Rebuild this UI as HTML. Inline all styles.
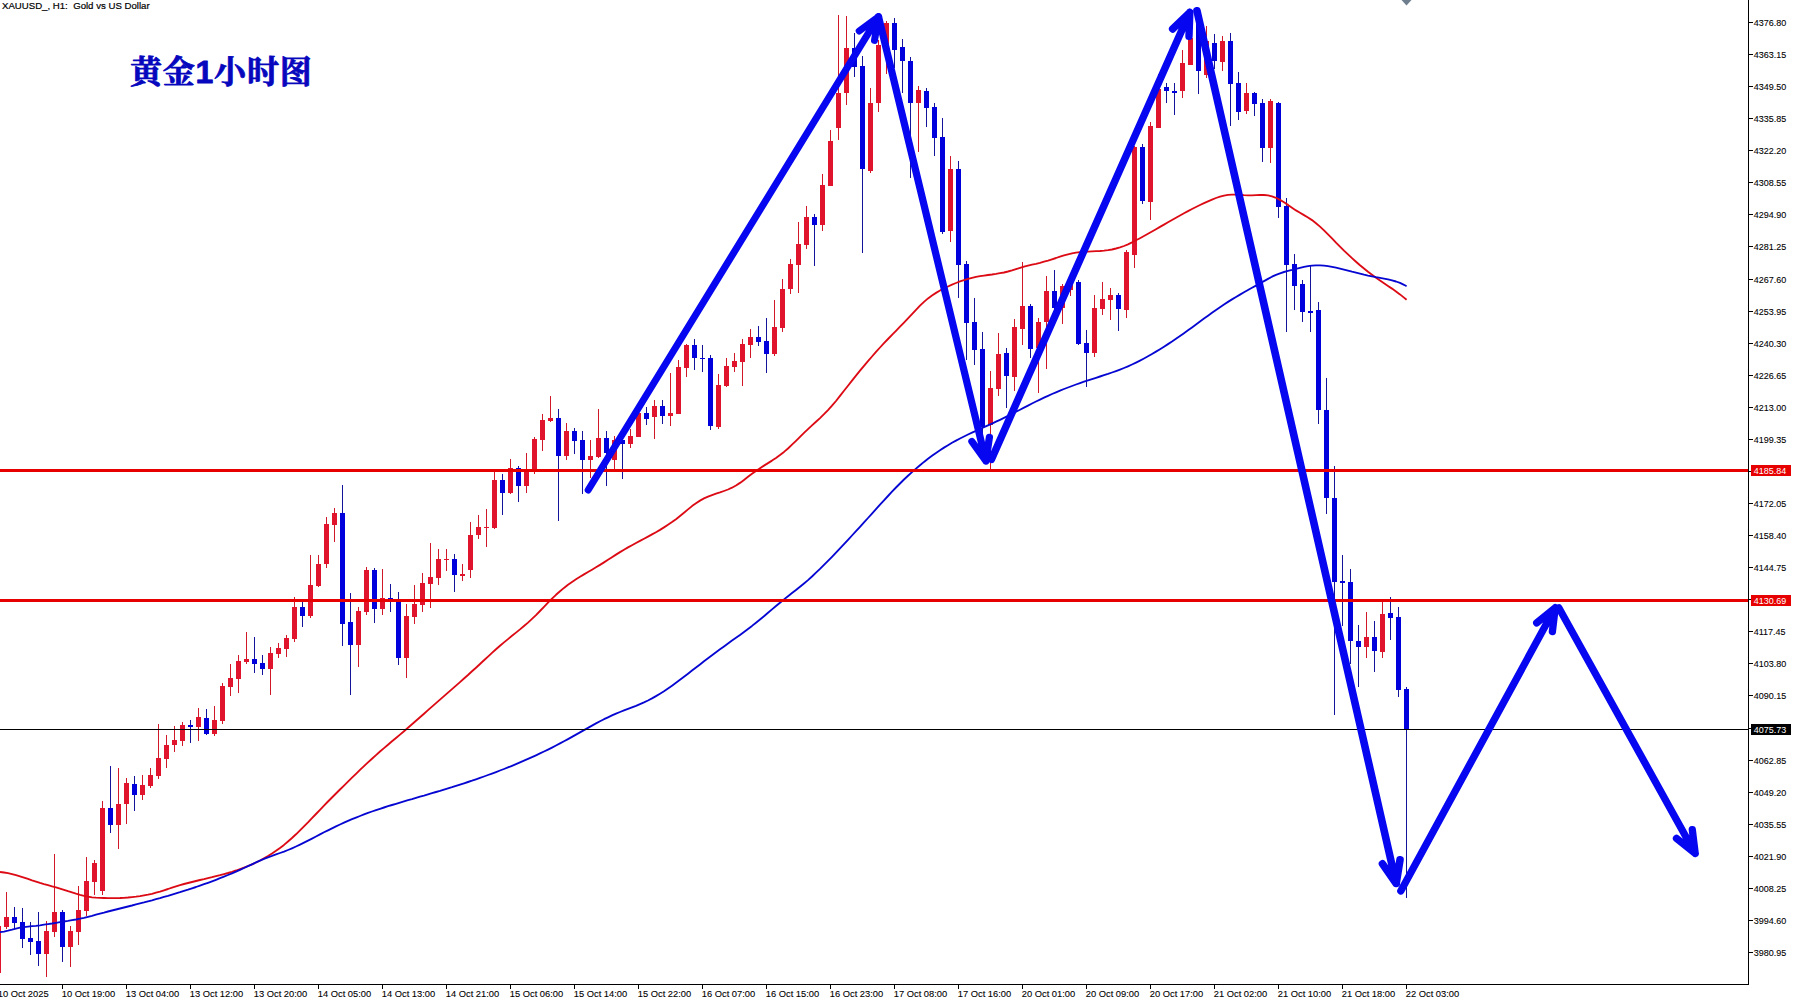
<!DOCTYPE html>
<html><head><meta charset="utf-8"><title>XAUUSD H1</title>
<style>html,body{margin:0;padding:0;background:#fff;overflow:hidden}svg{display:block}text{font-family:"Liberation Sans","Noto Sans CJK SC",sans-serif}text.ttl{font-family:"Liberation Sans","Noto Serif CJK SC",serif}</style></head>
<body>
<svg width="1799" height="1004" viewBox="0 0 1799 1004">
<rect width="1799" height="1004" fill="#fff"/>
<g shape-rendering="crispEdges">
<rect x="-4" y="926" width="5" height="47" fill="#E0142D"/>
<rect x="6" y="892" width="1" height="37" fill="#D01828"/>
<rect x="4" y="917" width="5" height="10" fill="#E0142D"/>
<rect x="14" y="907" width="1" height="22" fill="#14149A"/>
<rect x="12" y="917" width="5" height="6" fill="#0000DC"/>
<rect x="22" y="908" width="1" height="40" fill="#14149A"/>
<rect x="20" y="922" width="5" height="17" fill="#0000DC"/>
<rect x="30" y="922" width="1" height="33" fill="#14149A"/>
<rect x="28" y="938" width="5" height="4" fill="#0000DC"/>
<rect x="38" y="912" width="1" height="54" fill="#14149A"/>
<rect x="36" y="941" width="5" height="13" fill="#0000DC"/>
<rect x="46" y="921" width="1" height="56" fill="#D01828"/>
<rect x="44" y="931" width="5" height="23" fill="#E0142D"/>
<rect x="54" y="854" width="1" height="83" fill="#D01828"/>
<rect x="52" y="912" width="5" height="20" fill="#E0142D"/>
<rect x="62" y="910" width="1" height="52" fill="#14149A"/>
<rect x="60" y="912" width="5" height="35" fill="#0000DC"/>
<rect x="70" y="926" width="1" height="41" fill="#D01828"/>
<rect x="68" y="931" width="5" height="16" fill="#E0142D"/>
<rect x="78" y="886" width="1" height="59" fill="#D01828"/>
<rect x="76" y="910" width="5" height="22" fill="#E0142D"/>
<rect x="86" y="857" width="1" height="59" fill="#D01828"/>
<rect x="84" y="881" width="5" height="30" fill="#E0142D"/>
<rect x="94" y="860" width="1" height="35" fill="#D01828"/>
<rect x="92" y="863" width="5" height="19" fill="#E0142D"/>
<rect x="102" y="801" width="1" height="94" fill="#D01828"/>
<rect x="100" y="808" width="5" height="83" fill="#E0142D"/>
<rect x="110" y="766" width="1" height="67" fill="#14149A"/>
<rect x="108" y="808" width="5" height="17" fill="#0000DC"/>
<rect x="118" y="768" width="1" height="81" fill="#D01828"/>
<rect x="116" y="804" width="5" height="21" fill="#E0142D"/>
<rect x="126" y="778" width="1" height="46" fill="#D01828"/>
<rect x="124" y="783" width="5" height="21" fill="#E0142D"/>
<rect x="134" y="776" width="1" height="35" fill="#14149A"/>
<rect x="132" y="784" width="5" height="11" fill="#0000DC"/>
<rect x="142" y="775" width="1" height="25" fill="#D01828"/>
<rect x="140" y="785" width="5" height="10" fill="#E0142D"/>
<rect x="150" y="768" width="1" height="20" fill="#D01828"/>
<rect x="148" y="775" width="5" height="11" fill="#E0142D"/>
<rect x="158" y="724" width="1" height="55" fill="#D01828"/>
<rect x="156" y="758" width="5" height="18" fill="#E0142D"/>
<rect x="166" y="735" width="1" height="33" fill="#D01828"/>
<rect x="164" y="745" width="5" height="14" fill="#E0142D"/>
<rect x="174" y="726" width="1" height="26" fill="#D01828"/>
<rect x="172" y="740" width="5" height="5" fill="#E0142D"/>
<rect x="182" y="722" width="1" height="24" fill="#D01828"/>
<rect x="180" y="725" width="5" height="16" fill="#E0142D"/>
<rect x="190" y="720" width="1" height="23" fill="#14149A"/>
<rect x="188" y="725" width="5" height="2" fill="#0000DC"/>
<rect x="198" y="708" width="1" height="33" fill="#D01828"/>
<rect x="196" y="717" width="5" height="10" fill="#E0142D"/>
<rect x="206" y="709" width="1" height="26" fill="#14149A"/>
<rect x="204" y="718" width="5" height="16" fill="#0000DC"/>
<rect x="214" y="706" width="1" height="30" fill="#D01828"/>
<rect x="212" y="720" width="5" height="14" fill="#E0142D"/>
<rect x="222" y="683" width="1" height="41" fill="#D01828"/>
<rect x="220" y="686" width="5" height="35" fill="#E0142D"/>
<rect x="230" y="664" width="1" height="32" fill="#D01828"/>
<rect x="228" y="678" width="5" height="9" fill="#E0142D"/>
<rect x="238" y="655" width="1" height="38" fill="#D01828"/>
<rect x="236" y="661" width="5" height="18" fill="#E0142D"/>
<rect x="246" y="632" width="1" height="32" fill="#D01828"/>
<rect x="244" y="659" width="5" height="3" fill="#E0142D"/>
<rect x="254" y="637" width="1" height="36" fill="#14149A"/>
<rect x="252" y="659" width="5" height="5" fill="#0000DC"/>
<rect x="262" y="655" width="1" height="20" fill="#14149A"/>
<rect x="260" y="663" width="5" height="6" fill="#0000DC"/>
<rect x="270" y="647" width="1" height="48" fill="#D01828"/>
<rect x="268" y="653" width="5" height="16" fill="#E0142D"/>
<rect x="278" y="643" width="1" height="15" fill="#D01828"/>
<rect x="276" y="648" width="5" height="6" fill="#E0142D"/>
<rect x="286" y="635" width="1" height="22" fill="#D01828"/>
<rect x="284" y="638" width="5" height="11" fill="#E0142D"/>
<rect x="294" y="597" width="1" height="45" fill="#D01828"/>
<rect x="292" y="607" width="5" height="32" fill="#E0142D"/>
<rect x="302" y="602" width="1" height="25" fill="#14149A"/>
<rect x="300" y="607" width="5" height="9" fill="#0000DC"/>
<rect x="310" y="555" width="1" height="63" fill="#D01828"/>
<rect x="308" y="585" width="5" height="31" fill="#E0142D"/>
<rect x="318" y="555" width="1" height="32" fill="#D01828"/>
<rect x="316" y="564" width="5" height="22" fill="#E0142D"/>
<rect x="326" y="517" width="1" height="51" fill="#D01828"/>
<rect x="324" y="524" width="5" height="40" fill="#E0142D"/>
<rect x="334" y="508" width="1" height="34" fill="#D01828"/>
<rect x="332" y="513" width="5" height="12" fill="#E0142D"/>
<rect x="342" y="485" width="1" height="161" fill="#14149A"/>
<rect x="340" y="513" width="5" height="111" fill="#0000DC"/>
<rect x="350" y="593" width="1" height="102" fill="#14149A"/>
<rect x="348" y="622" width="5" height="23" fill="#0000DC"/>
<rect x="358" y="607" width="1" height="60" fill="#D01828"/>
<rect x="356" y="611" width="5" height="34" fill="#E0142D"/>
<rect x="366" y="567" width="1" height="48" fill="#D01828"/>
<rect x="364" y="570" width="5" height="42" fill="#E0142D"/>
<rect x="374" y="568" width="1" height="55" fill="#14149A"/>
<rect x="372" y="570" width="5" height="39" fill="#0000DC"/>
<rect x="382" y="569" width="1" height="46" fill="#D01828"/>
<rect x="380" y="598" width="5" height="11" fill="#E0142D"/>
<rect x="390" y="584" width="1" height="28" fill="#14149A"/>
<rect x="388" y="598" width="5" height="2" fill="#0000DC"/>
<rect x="398" y="592" width="1" height="73" fill="#14149A"/>
<rect x="396" y="601" width="5" height="57" fill="#0000DC"/>
<rect x="406" y="604" width="1" height="74" fill="#D01828"/>
<rect x="404" y="616" width="5" height="42" fill="#E0142D"/>
<rect x="414" y="585" width="1" height="39" fill="#D01828"/>
<rect x="412" y="604" width="5" height="13" fill="#E0142D"/>
<rect x="422" y="573" width="1" height="39" fill="#D01828"/>
<rect x="420" y="583" width="5" height="22" fill="#E0142D"/>
<rect x="430" y="543" width="1" height="65" fill="#D01828"/>
<rect x="428" y="577" width="5" height="7" fill="#E0142D"/>
<rect x="438" y="549" width="1" height="36" fill="#D01828"/>
<rect x="436" y="559" width="5" height="19" fill="#E0142D"/>
<rect x="446" y="549" width="1" height="22" fill="#D01828"/>
<rect x="444" y="559" width="5" height="1" fill="#E0142D"/>
<rect x="454" y="554" width="1" height="38" fill="#14149A"/>
<rect x="452" y="559" width="5" height="16" fill="#0000DC"/>
<rect x="462" y="564" width="1" height="17" fill="#D01828"/>
<rect x="460" y="574" width="5" height="2" fill="#E0142D"/>
<rect x="470" y="522" width="1" height="56" fill="#D01828"/>
<rect x="468" y="535" width="5" height="35" fill="#E0142D"/>
<rect x="478" y="515" width="1" height="24" fill="#D01828"/>
<rect x="476" y="527" width="5" height="8" fill="#E0142D"/>
<rect x="486" y="509" width="1" height="38" fill="#D01828"/>
<rect x="484" y="527" width="5" height="1" fill="#E0142D"/>
<rect x="494" y="471" width="1" height="58" fill="#D01828"/>
<rect x="492" y="480" width="5" height="48" fill="#E0142D"/>
<rect x="502" y="474" width="1" height="41" fill="#14149A"/>
<rect x="500" y="480" width="5" height="13" fill="#0000DC"/>
<rect x="510" y="459" width="1" height="35" fill="#D01828"/>
<rect x="508" y="468" width="5" height="25" fill="#E0142D"/>
<rect x="518" y="466" width="1" height="36" fill="#14149A"/>
<rect x="516" y="468" width="5" height="18" fill="#0000DC"/>
<rect x="526" y="453" width="1" height="40" fill="#D01828"/>
<rect x="524" y="470" width="5" height="16" fill="#E0142D"/>
<rect x="534" y="437" width="1" height="37" fill="#D01828"/>
<rect x="532" y="439" width="5" height="31" fill="#E0142D"/>
<rect x="542" y="414" width="1" height="37" fill="#D01828"/>
<rect x="540" y="420" width="5" height="20" fill="#E0142D"/>
<rect x="550" y="396" width="1" height="26" fill="#D01828"/>
<rect x="548" y="418" width="5" height="3" fill="#E0142D"/>
<rect x="558" y="409" width="1" height="112" fill="#14149A"/>
<rect x="556" y="418" width="5" height="38" fill="#0000DC"/>
<rect x="566" y="423" width="1" height="37" fill="#D01828"/>
<rect x="564" y="431" width="5" height="25" fill="#E0142D"/>
<rect x="574" y="428" width="1" height="26" fill="#14149A"/>
<rect x="572" y="431" width="5" height="10" fill="#0000DC"/>
<rect x="582" y="431" width="1" height="63" fill="#14149A"/>
<rect x="580" y="440" width="5" height="20" fill="#0000DC"/>
<rect x="590" y="440" width="1" height="38" fill="#D01828"/>
<rect x="588" y="456" width="5" height="4" fill="#E0142D"/>
<rect x="598" y="409" width="1" height="49" fill="#D01828"/>
<rect x="596" y="438" width="5" height="19" fill="#E0142D"/>
<rect x="606" y="431" width="1" height="55" fill="#14149A"/>
<rect x="604" y="438" width="5" height="15" fill="#0000DC"/>
<rect x="614" y="436" width="1" height="34" fill="#D01828"/>
<rect x="612" y="440" width="5" height="20" fill="#E0142D"/>
<rect x="622" y="437" width="1" height="42" fill="#14149A"/>
<rect x="620" y="440" width="5" height="4" fill="#0000DC"/>
<rect x="630" y="429" width="1" height="19" fill="#D01828"/>
<rect x="628" y="436" width="5" height="8" fill="#E0142D"/>
<rect x="638" y="411" width="1" height="26" fill="#D01828"/>
<rect x="636" y="413" width="5" height="24" fill="#E0142D"/>
<rect x="646" y="407" width="1" height="18" fill="#14149A"/>
<rect x="644" y="413" width="5" height="6" fill="#0000DC"/>
<rect x="654" y="400" width="1" height="39" fill="#D01828"/>
<rect x="652" y="406" width="5" height="11" fill="#E0142D"/>
<rect x="662" y="400" width="1" height="24" fill="#14149A"/>
<rect x="660" y="406" width="5" height="10" fill="#0000DC"/>
<rect x="670" y="373" width="1" height="53" fill="#D01828"/>
<rect x="668" y="413" width="5" height="3" fill="#E0142D"/>
<rect x="678" y="360" width="1" height="54" fill="#D01828"/>
<rect x="676" y="367" width="5" height="47" fill="#E0142D"/>
<rect x="686" y="344" width="1" height="33" fill="#D01828"/>
<rect x="684" y="345" width="5" height="23" fill="#E0142D"/>
<rect x="694" y="339" width="1" height="31" fill="#14149A"/>
<rect x="692" y="345" width="5" height="13" fill="#0000DC"/>
<rect x="702" y="345" width="1" height="27" fill="#14149A"/>
<rect x="700" y="358" width="5" height="1" fill="#0000DC"/>
<rect x="710" y="355" width="1" height="75" fill="#14149A"/>
<rect x="708" y="358" width="5" height="68" fill="#0000DC"/>
<rect x="718" y="374" width="1" height="55" fill="#D01828"/>
<rect x="716" y="385" width="5" height="42" fill="#E0142D"/>
<rect x="726" y="358" width="1" height="29" fill="#D01828"/>
<rect x="724" y="366" width="5" height="20" fill="#E0142D"/>
<rect x="734" y="353" width="1" height="19" fill="#D01828"/>
<rect x="732" y="361" width="5" height="6" fill="#E0142D"/>
<rect x="742" y="339" width="1" height="47" fill="#D01828"/>
<rect x="740" y="344" width="5" height="18" fill="#E0142D"/>
<rect x="750" y="329" width="1" height="29" fill="#D01828"/>
<rect x="748" y="337" width="5" height="8" fill="#E0142D"/>
<rect x="758" y="326" width="1" height="20" fill="#14149A"/>
<rect x="756" y="337" width="5" height="5" fill="#0000DC"/>
<rect x="766" y="318" width="1" height="55" fill="#14149A"/>
<rect x="764" y="341" width="5" height="13" fill="#0000DC"/>
<rect x="774" y="300" width="1" height="56" fill="#D01828"/>
<rect x="772" y="327" width="5" height="27" fill="#E0142D"/>
<rect x="782" y="279" width="1" height="53" fill="#D01828"/>
<rect x="780" y="289" width="5" height="39" fill="#E0142D"/>
<rect x="790" y="259" width="1" height="35" fill="#D01828"/>
<rect x="788" y="264" width="5" height="25" fill="#E0142D"/>
<rect x="798" y="222" width="1" height="71" fill="#D01828"/>
<rect x="796" y="244" width="5" height="21" fill="#E0142D"/>
<rect x="806" y="206" width="1" height="43" fill="#D01828"/>
<rect x="804" y="217" width="5" height="28" fill="#E0142D"/>
<rect x="814" y="214" width="1" height="52" fill="#14149A"/>
<rect x="812" y="217" width="5" height="8" fill="#0000DC"/>
<rect x="822" y="174" width="1" height="57" fill="#D01828"/>
<rect x="820" y="185" width="5" height="40" fill="#E0142D"/>
<rect x="830" y="130" width="1" height="56" fill="#D01828"/>
<rect x="828" y="141" width="5" height="45" fill="#E0142D"/>
<rect x="838" y="15" width="1" height="125" fill="#D01828"/>
<rect x="836" y="93" width="5" height="35" fill="#E0142D"/>
<rect x="846" y="16" width="1" height="89" fill="#D01828"/>
<rect x="844" y="48" width="5" height="45" fill="#E0142D"/>
<rect x="854" y="33" width="1" height="44" fill="#14149A"/>
<rect x="852" y="48" width="5" height="19" fill="#0000DC"/>
<rect x="862" y="56" width="1" height="197" fill="#14149A"/>
<rect x="860" y="66" width="5" height="103" fill="#0000DC"/>
<rect x="870" y="88" width="1" height="85" fill="#D01828"/>
<rect x="868" y="103" width="5" height="68" fill="#E0142D"/>
<rect x="878" y="40" width="1" height="72" fill="#D01828"/>
<rect x="876" y="45" width="5" height="58" fill="#E0142D"/>
<rect x="886" y="21" width="1" height="53" fill="#D01828"/>
<rect x="884" y="23" width="5" height="22" fill="#E0142D"/>
<rect x="894" y="18" width="1" height="50" fill="#14149A"/>
<rect x="892" y="23" width="5" height="27" fill="#0000DC"/>
<rect x="902" y="39" width="1" height="54" fill="#14149A"/>
<rect x="900" y="47" width="5" height="14" fill="#0000DC"/>
<rect x="910" y="57" width="1" height="121" fill="#14149A"/>
<rect x="908" y="61" width="5" height="42" fill="#0000DC"/>
<rect x="918" y="86" width="1" height="66" fill="#D01828"/>
<rect x="916" y="90" width="5" height="13" fill="#E0142D"/>
<rect x="926" y="88" width="1" height="39" fill="#14149A"/>
<rect x="924" y="91" width="5" height="17" fill="#0000DC"/>
<rect x="934" y="103" width="1" height="53" fill="#14149A"/>
<rect x="932" y="107" width="5" height="31" fill="#0000DC"/>
<rect x="942" y="118" width="1" height="116" fill="#14149A"/>
<rect x="940" y="137" width="5" height="95" fill="#0000DC"/>
<rect x="950" y="156" width="1" height="86" fill="#D01828"/>
<rect x="948" y="169" width="5" height="62" fill="#E0142D"/>
<rect x="958" y="161" width="1" height="137" fill="#14149A"/>
<rect x="956" y="169" width="5" height="96" fill="#0000DC"/>
<rect x="966" y="261" width="1" height="99" fill="#14149A"/>
<rect x="964" y="264" width="5" height="59" fill="#0000DC"/>
<rect x="974" y="298" width="1" height="67" fill="#14149A"/>
<rect x="972" y="322" width="5" height="28" fill="#0000DC"/>
<rect x="982" y="332" width="1" height="108" fill="#14149A"/>
<rect x="980" y="349" width="5" height="78" fill="#0000DC"/>
<rect x="990" y="371" width="1" height="98" fill="#D01828"/>
<rect x="988" y="388" width="5" height="37" fill="#E0142D"/>
<rect x="998" y="333" width="1" height="63" fill="#D01828"/>
<rect x="996" y="354" width="5" height="35" fill="#E0142D"/>
<rect x="1006" y="348" width="1" height="60" fill="#14149A"/>
<rect x="1004" y="353" width="5" height="23" fill="#0000DC"/>
<rect x="1014" y="319" width="1" height="72" fill="#D01828"/>
<rect x="1012" y="327" width="5" height="50" fill="#E0142D"/>
<rect x="1022" y="262" width="1" height="83" fill="#D01828"/>
<rect x="1020" y="306" width="5" height="23" fill="#E0142D"/>
<rect x="1030" y="304" width="1" height="54" fill="#14149A"/>
<rect x="1028" y="306" width="5" height="43" fill="#0000DC"/>
<rect x="1038" y="318" width="1" height="75" fill="#D01828"/>
<rect x="1036" y="322" width="5" height="26" fill="#E0142D"/>
<rect x="1046" y="276" width="1" height="93" fill="#D01828"/>
<rect x="1044" y="291" width="5" height="31" fill="#E0142D"/>
<rect x="1054" y="270" width="1" height="50" fill="#14149A"/>
<rect x="1052" y="291" width="5" height="17" fill="#0000DC"/>
<rect x="1062" y="284" width="1" height="40" fill="#D01828"/>
<rect x="1060" y="286" width="5" height="22" fill="#E0142D"/>
<rect x="1070" y="280" width="1" height="16" fill="#D01828"/>
<rect x="1068" y="284" width="5" height="6" fill="#E0142D"/>
<rect x="1078" y="280" width="1" height="65" fill="#14149A"/>
<rect x="1076" y="282" width="5" height="62" fill="#0000DC"/>
<rect x="1086" y="330" width="1" height="57" fill="#14149A"/>
<rect x="1084" y="343" width="5" height="10" fill="#0000DC"/>
<rect x="1094" y="295" width="1" height="62" fill="#D01828"/>
<rect x="1092" y="308" width="5" height="45" fill="#E0142D"/>
<rect x="1102" y="282" width="1" height="33" fill="#D01828"/>
<rect x="1100" y="299" width="5" height="10" fill="#E0142D"/>
<rect x="1110" y="288" width="1" height="32" fill="#D01828"/>
<rect x="1108" y="295" width="5" height="5" fill="#E0142D"/>
<rect x="1118" y="293" width="1" height="38" fill="#14149A"/>
<rect x="1116" y="295" width="5" height="14" fill="#0000DC"/>
<rect x="1126" y="250" width="1" height="68" fill="#D01828"/>
<rect x="1124" y="252" width="5" height="58" fill="#E0142D"/>
<rect x="1134" y="146" width="1" height="122" fill="#D01828"/>
<rect x="1132" y="147" width="5" height="108" fill="#E0142D"/>
<rect x="1142" y="144" width="1" height="60" fill="#14149A"/>
<rect x="1140" y="147" width="5" height="54" fill="#0000DC"/>
<rect x="1150" y="122" width="1" height="98" fill="#D01828"/>
<rect x="1148" y="126" width="5" height="76" fill="#E0142D"/>
<rect x="1158" y="74" width="1" height="54" fill="#D01828"/>
<rect x="1156" y="89" width="5" height="39" fill="#E0142D"/>
<rect x="1166" y="83" width="1" height="20" fill="#14149A"/>
<rect x="1164" y="87" width="5" height="4" fill="#0000DC"/>
<rect x="1174" y="83" width="1" height="32" fill="#14149A"/>
<rect x="1172" y="91" width="5" height="2" fill="#0000DC"/>
<rect x="1182" y="50" width="1" height="48" fill="#D01828"/>
<rect x="1180" y="63" width="5" height="28" fill="#E0142D"/>
<rect x="1190" y="20" width="1" height="45" fill="#D01828"/>
<rect x="1188" y="38" width="5" height="27" fill="#E0142D"/>
<rect x="1198" y="8" width="1" height="86" fill="#14149A"/>
<rect x="1196" y="20" width="5" height="51" fill="#0000DC"/>
<rect x="1206" y="26" width="1" height="52" fill="#D01828"/>
<rect x="1204" y="41" width="5" height="34" fill="#E0142D"/>
<rect x="1214" y="34" width="1" height="35" fill="#14149A"/>
<rect x="1212" y="43" width="5" height="18" fill="#0000DC"/>
<rect x="1222" y="36" width="1" height="35" fill="#D01828"/>
<rect x="1220" y="41" width="5" height="21" fill="#E0142D"/>
<rect x="1230" y="33" width="1" height="93" fill="#14149A"/>
<rect x="1228" y="41" width="5" height="43" fill="#0000DC"/>
<rect x="1238" y="72" width="1" height="48" fill="#14149A"/>
<rect x="1236" y="83" width="5" height="29" fill="#0000DC"/>
<rect x="1246" y="83" width="1" height="31" fill="#D01828"/>
<rect x="1244" y="93" width="5" height="18" fill="#E0142D"/>
<rect x="1254" y="92" width="1" height="24" fill="#14149A"/>
<rect x="1252" y="93" width="5" height="11" fill="#0000DC"/>
<rect x="1262" y="99" width="1" height="63" fill="#14149A"/>
<rect x="1260" y="103" width="5" height="45" fill="#0000DC"/>
<rect x="1270" y="99" width="1" height="64" fill="#D01828"/>
<rect x="1268" y="101" width="5" height="47" fill="#E0142D"/>
<rect x="1278" y="102" width="1" height="116" fill="#14149A"/>
<rect x="1276" y="103" width="5" height="104" fill="#0000DC"/>
<rect x="1286" y="198" width="1" height="134" fill="#14149A"/>
<rect x="1284" y="206" width="5" height="59" fill="#0000DC"/>
<rect x="1294" y="254" width="1" height="56" fill="#14149A"/>
<rect x="1292" y="264" width="5" height="22" fill="#0000DC"/>
<rect x="1302" y="280" width="1" height="42" fill="#14149A"/>
<rect x="1300" y="284" width="5" height="28" fill="#0000DC"/>
<rect x="1310" y="266" width="1" height="66" fill="#14149A"/>
<rect x="1308" y="311" width="5" height="2" fill="#0000DC"/>
<rect x="1318" y="302" width="1" height="122" fill="#14149A"/>
<rect x="1316" y="310" width="5" height="100" fill="#0000DC"/>
<rect x="1326" y="378" width="1" height="136" fill="#14149A"/>
<rect x="1324" y="410" width="5" height="88" fill="#0000DC"/>
<rect x="1334" y="466" width="1" height="249" fill="#14149A"/>
<rect x="1332" y="498" width="5" height="84" fill="#0000DC"/>
<rect x="1342" y="555" width="1" height="71" fill="#14149A"/>
<rect x="1340" y="581" width="5" height="2" fill="#0000DC"/>
<rect x="1350" y="569" width="1" height="95" fill="#14149A"/>
<rect x="1348" y="582" width="5" height="59" fill="#0000DC"/>
<rect x="1358" y="625" width="1" height="62" fill="#14149A"/>
<rect x="1356" y="641" width="5" height="6" fill="#0000DC"/>
<rect x="1366" y="612" width="1" height="46" fill="#D01828"/>
<rect x="1364" y="637" width="5" height="10" fill="#E0142D"/>
<rect x="1374" y="621" width="1" height="51" fill="#14149A"/>
<rect x="1372" y="637" width="5" height="14" fill="#0000DC"/>
<rect x="1382" y="602" width="1" height="56" fill="#D01828"/>
<rect x="1380" y="614" width="5" height="38" fill="#E0142D"/>
<rect x="1390" y="597" width="1" height="43" fill="#14149A"/>
<rect x="1388" y="613" width="5" height="5" fill="#0000DC"/>
<rect x="1398" y="607" width="1" height="90" fill="#14149A"/>
<rect x="1396" y="617" width="5" height="73" fill="#0000DC"/>
<rect x="1406" y="687" width="1" height="211" fill="#14149A"/>
<rect x="1404" y="689" width="5" height="40" fill="#0000DC"/>
</g>
<polyline points="0.0,872.0 4.0,872.5 8.0,873.2 12.0,874.1 16.0,875.2 20.0,876.3 24.0,877.6 28.0,878.9 32.0,880.3 36.0,881.6 40.0,882.9 44.0,884.1 48.0,885.2 52.0,886.3 56.0,887.4 60.0,888.6 64.0,889.8 68.0,891.2 72.0,892.4 76.0,893.7 80.0,894.8 84.0,895.8 88.0,896.7 92.0,897.3 96.0,897.7 100.0,897.9 104.0,898.0 108.0,898.1 112.0,898.1 116.0,898.1 120.0,898.0 124.0,897.8 128.0,897.5 132.0,897.1 136.0,896.7 140.0,896.1 144.0,895.4 148.0,894.7 152.0,893.8 156.0,892.7 160.0,891.6 164.0,890.3 168.0,889.0 172.0,887.6 176.0,886.3 180.0,885.1 184.0,884.0 188.0,883.0 192.0,882.0 196.0,881.0 200.0,880.0 204.0,879.1 208.0,878.1 212.0,877.2 216.0,876.2 220.0,875.2 224.0,874.1 228.0,873.0 232.0,871.8 236.0,870.5 240.0,869.1 244.0,867.6 248.0,866.0 252.0,864.3 256.0,862.5 260.0,860.5 264.0,858.3 268.0,856.0 272.0,853.5 276.0,850.8 280.0,847.9 284.0,844.9 288.0,841.5 292.0,838.0 296.0,834.3 300.0,830.4 304.0,826.4 308.0,822.4 312.0,818.2 316.0,814.0 320.0,809.8 324.0,805.7 328.0,801.5 332.0,797.5 336.0,793.5 340.0,789.5 344.0,785.6 348.0,781.6 352.0,777.7 356.0,773.8 360.0,769.9 364.0,766.1 368.0,762.4 372.0,758.7 376.0,755.1 380.0,751.5 384.0,748.1 388.0,744.7 392.0,741.3 396.0,738.0 400.0,734.6 404.0,731.2 408.0,727.8 412.0,724.3 416.0,720.8 420.0,717.2 424.0,713.7 428.0,710.1 432.0,706.6 436.0,703.1 440.0,699.6 444.0,696.1 448.0,692.6 452.0,689.1 456.0,685.6 460.0,682.1 464.0,678.5 468.0,675.0 472.0,671.3 476.0,667.7 480.0,664.0 484.0,660.3 488.0,656.6 492.0,652.9 496.0,649.3 500.0,645.8 504.0,642.4 508.0,639.1 512.0,635.8 516.0,632.6 520.0,629.4 524.0,626.0 528.0,622.6 532.0,618.9 536.0,615.1 540.0,611.0 544.0,606.8 548.0,602.6 552.0,598.6 556.0,594.8 560.0,591.2 564.0,587.9 568.0,584.8 572.0,582.0 576.0,579.3 580.0,576.8 584.0,574.4 588.0,572.0 592.0,569.7 596.0,567.3 600.0,564.9 604.0,562.4 608.0,559.8 612.0,557.2 616.0,554.6 620.0,552.1 624.0,549.7 628.0,547.4 632.0,545.2 636.0,543.0 640.0,540.9 644.0,538.7 648.0,536.6 652.0,534.4 656.0,532.2 660.0,529.9 664.0,527.4 668.0,524.8 672.0,522.1 676.0,519.2 680.0,516.0 684.0,512.7 688.0,509.4 692.0,506.1 696.0,503.2 700.0,500.6 704.0,498.4 708.0,496.6 712.0,495.1 716.0,493.7 720.0,492.4 724.0,491.0 728.0,489.5 732.0,487.7 736.0,485.5 740.0,482.9 744.0,479.9 748.0,476.8 752.0,473.8 756.0,470.9 760.0,468.2 764.0,465.6 768.0,463.1 772.0,460.6 776.0,457.9 780.0,455.0 784.0,451.9 788.0,448.5 792.0,444.7 796.0,440.8 800.0,436.8 804.0,432.9 808.0,429.1 812.0,425.4 816.0,421.8 820.0,418.1 824.0,414.2 828.0,410.1 832.0,405.7 836.0,401.0 840.0,395.9 844.0,390.8 848.0,385.7 852.0,380.6 856.0,375.6 860.0,370.7 864.0,365.9 868.0,361.1 872.0,356.5 876.0,351.9 880.0,347.5 884.0,343.2 888.0,339.0 892.0,334.8 896.0,330.8 900.0,326.7 904.0,322.6 908.0,318.4 912.0,314.1 916.0,309.8 920.0,305.7 924.0,301.9 928.0,298.4 932.0,295.5 936.0,292.9 940.0,290.5 944.0,288.4 948.0,286.5 952.0,284.6 956.0,283.0 960.0,281.4 964.0,280.1 968.0,278.8 972.0,277.8 976.0,276.9 980.0,276.2 984.0,275.6 988.0,275.0 992.0,274.5 996.0,273.9 1000.0,273.2 1004.0,272.5 1008.0,271.5 1012.0,270.4 1016.0,269.1 1020.0,267.9 1024.0,266.7 1028.0,265.7 1032.0,264.7 1036.0,263.8 1040.0,262.8 1044.0,261.7 1048.0,260.6 1052.0,259.3 1056.0,258.0 1060.0,256.6 1064.0,255.4 1068.0,254.3 1072.0,253.4 1076.0,252.7 1080.0,252.2 1084.0,251.8 1088.0,251.6 1092.0,251.4 1096.0,251.2 1100.0,251.0 1104.0,250.7 1108.0,250.2 1112.0,249.5 1116.0,248.5 1120.0,247.4 1124.0,246.0 1128.0,244.3 1132.0,242.4 1136.0,240.3 1140.0,238.2 1144.0,236.0 1148.0,233.8 1152.0,231.5 1156.0,229.2 1160.0,226.9 1164.0,224.6 1168.0,222.3 1172.0,220.0 1176.0,217.7 1180.0,215.5 1184.0,213.3 1188.0,211.1 1192.0,209.0 1196.0,207.0 1200.0,205.0 1204.0,203.1 1208.0,201.3 1212.0,199.6 1216.0,198.0 1220.0,196.6 1224.0,195.6 1228.0,194.9 1232.0,194.6 1236.0,194.6 1240.0,194.8 1244.0,195.1 1248.0,195.3 1252.0,195.3 1256.0,195.1 1260.0,195.0 1264.0,195.0 1268.0,195.4 1272.0,196.4 1276.0,197.8 1280.0,199.9 1284.0,202.3 1288.0,204.9 1292.0,207.7 1296.0,210.4 1300.0,212.8 1304.0,215.1 1308.0,217.5 1312.0,220.1 1316.0,223.2 1320.0,226.6 1324.0,230.4 1328.0,234.4 1332.0,238.4 1336.0,242.6 1340.0,246.6 1344.0,250.6 1348.0,254.4 1352.0,258.1 1356.0,261.7 1360.0,265.2 1364.0,268.5 1368.0,271.8 1372.0,274.8 1376.0,277.8 1380.0,280.6 1384.0,283.3 1388.0,286.0 1392.0,288.6 1396.0,291.4 1400.0,294.4 1404.0,297.6 1406.6,299.8" fill="none" stroke="#DC0A14" stroke-width="1.85" stroke-linejoin="round"/>
<polyline points="0.0,932.2 4.0,931.6 8.0,930.7 12.0,929.7 16.0,928.6 20.0,927.7 24.0,927.1 28.0,926.6 32.0,926.2 36.0,925.8 40.0,925.3 44.0,924.7 48.0,924.1 52.0,923.5 56.0,922.8 60.0,922.1 64.0,921.5 68.0,920.9 72.0,920.2 76.0,919.5 80.0,918.7 84.0,917.8 88.0,916.8 92.0,915.8 96.0,914.7 100.0,913.6 104.0,912.6 108.0,911.5 112.0,910.5 116.0,909.5 120.0,908.5 124.0,907.5 128.0,906.5 132.0,905.5 136.0,904.4 140.0,903.4 144.0,902.4 148.0,901.3 152.0,900.3 156.0,899.2 160.0,898.1 164.0,896.9 168.0,895.8 172.0,894.6 176.0,893.4 180.0,892.2 184.0,890.9 188.0,889.7 192.0,888.3 196.0,887.0 200.0,885.6 204.0,884.2 208.0,882.8 212.0,881.3 216.0,879.8 220.0,878.2 224.0,876.6 228.0,875.0 232.0,873.3 236.0,871.6 240.0,869.8 244.0,868.0 248.0,866.2 252.0,864.3 256.0,862.4 260.0,860.6 264.0,858.9 268.0,857.3 272.0,855.9 276.0,854.4 280.0,853.0 284.0,851.6 288.0,850.0 292.0,848.3 296.0,846.5 300.0,844.6 304.0,842.6 308.0,840.6 312.0,838.6 316.0,836.5 320.0,834.4 324.0,832.3 328.0,830.3 332.0,828.3 336.0,826.4 340.0,824.5 344.0,822.7 348.0,820.9 352.0,819.2 356.0,817.6 360.0,816.0 364.0,814.4 368.0,812.9 372.0,811.5 376.0,810.1 380.0,808.8 384.0,807.5 388.0,806.2 392.0,805.0 396.0,803.8 400.0,802.6 404.0,801.4 408.0,800.2 412.0,799.1 416.0,797.9 420.0,796.7 424.0,795.6 428.0,794.4 432.0,793.2 436.0,792.0 440.0,790.9 444.0,789.6 448.0,788.4 452.0,787.2 456.0,785.9 460.0,784.6 464.0,783.3 468.0,782.0 472.0,780.7 476.0,779.3 480.0,777.9 484.0,776.5 488.0,775.0 492.0,773.6 496.0,772.1 500.0,770.5 504.0,769.0 508.0,767.4 512.0,765.8 516.0,764.1 520.0,762.4 524.0,760.7 528.0,758.9 532.0,757.1 536.0,755.3 540.0,753.4 544.0,751.5 548.0,749.6 552.0,747.6 556.0,745.5 560.0,743.4 564.0,741.3 568.0,739.1 572.0,736.9 576.0,734.6 580.0,732.4 584.0,730.1 588.0,727.9 592.0,725.6 596.0,723.4 600.0,721.3 604.0,719.2 608.0,717.3 612.0,715.4 616.0,713.6 620.0,712.0 624.0,710.4 628.0,708.9 632.0,707.3 636.0,705.8 640.0,704.1 644.0,702.4 648.0,700.5 652.0,698.4 656.0,696.1 660.0,693.7 664.0,691.2 668.0,688.5 672.0,685.7 676.0,682.8 680.0,679.8 684.0,676.8 688.0,673.7 692.0,670.6 696.0,667.5 700.0,664.4 704.0,661.2 708.0,658.2 712.0,655.2 716.0,652.2 720.0,649.3 724.0,646.4 728.0,643.5 732.0,640.6 736.0,637.8 740.0,634.9 744.0,631.9 748.0,628.9 752.0,625.9 756.0,622.7 760.0,619.5 764.0,616.2 768.0,612.8 772.0,609.4 776.0,606.0 780.0,602.7 784.0,599.4 788.0,596.2 792.0,593.1 796.0,590.0 800.0,586.8 804.0,583.5 808.0,580.1 812.0,576.5 816.0,572.7 820.0,568.9 824.0,564.9 828.0,560.9 832.0,556.8 836.0,552.6 840.0,548.4 844.0,544.2 848.0,539.9 852.0,535.5 856.0,531.2 860.0,526.8 864.0,522.4 868.0,518.0 872.0,513.6 876.0,509.1 880.0,504.7 884.0,500.3 888.0,496.0 892.0,491.7 896.0,487.5 900.0,483.5 904.0,479.5 908.0,475.8 912.0,472.1 916.0,468.6 920.0,465.2 924.0,461.9 928.0,458.8 932.0,455.8 936.0,452.9 940.0,450.2 944.0,447.6 948.0,445.2 952.0,442.8 956.0,440.6 960.0,438.5 964.0,436.5 968.0,434.5 972.0,432.6 976.0,430.8 980.0,429.0 984.0,427.2 988.0,425.4 992.0,423.6 996.0,421.7 1000.0,419.8 1004.0,417.9 1008.0,415.9 1012.0,413.9 1016.0,411.8 1020.0,409.7 1024.0,407.7 1028.0,405.6 1032.0,403.5 1036.0,401.5 1040.0,399.6 1044.0,397.7 1048.0,395.8 1052.0,394.0 1056.0,392.3 1060.0,390.6 1064.0,389.0 1068.0,387.5 1072.0,386.0 1076.0,384.5 1080.0,383.1 1084.0,381.7 1088.0,380.4 1092.0,379.1 1096.0,377.8 1100.0,376.5 1104.0,375.2 1108.0,373.9 1112.0,372.5 1116.0,371.1 1120.0,369.6 1124.0,368.0 1128.0,366.3 1132.0,364.5 1136.0,362.6 1140.0,360.6 1144.0,358.5 1148.0,356.3 1152.0,354.0 1156.0,351.6 1160.0,349.2 1164.0,346.7 1168.0,344.1 1172.0,341.5 1176.0,338.7 1180.0,336.0 1184.0,333.2 1188.0,330.3 1192.0,327.4 1196.0,324.5 1200.0,321.5 1204.0,318.6 1208.0,315.7 1212.0,312.8 1216.0,310.0 1220.0,307.2 1224.0,304.5 1228.0,301.9 1232.0,299.4 1236.0,297.0 1240.0,294.6 1244.0,292.3 1248.0,290.0 1252.0,287.8 1256.0,285.6 1260.0,283.3 1264.0,281.1 1268.0,278.9 1272.0,276.7 1276.0,274.8 1280.0,273.3 1284.0,272.0 1288.0,270.9 1292.0,269.9 1296.0,268.8 1300.0,267.8 1304.0,266.9 1308.0,266.1 1312.0,265.6 1316.0,265.3 1320.0,265.4 1324.0,265.7 1328.0,266.2 1332.0,266.9 1336.0,267.7 1340.0,268.6 1344.0,269.6 1348.0,270.6 1352.0,271.7 1356.0,272.7 1360.0,273.7 1364.0,274.7 1368.0,275.6 1372.0,276.4 1376.0,277.2 1380.0,277.9 1384.0,278.6 1388.0,279.3 1392.0,280.3 1396.0,281.5 1400.0,282.9 1404.0,284.8 1406.6,286.2" fill="none" stroke="#0606D2" stroke-width="1.85" stroke-linejoin="round"/>
<g shape-rendering="crispEdges">
<rect x="0" y="469" width="1748" height="3" fill="#E60000"/>
<rect x="0" y="599" width="1748" height="3" fill="#E60000"/>
<rect x="0" y="729" width="1748" height="1" fill="#000"/>
<rect x="1748" y="0" width="1" height="985" fill="#000"/>
<rect x="0" y="984" width="1749" height="1" fill="#000"/>
<rect x="1749" y="22" width="4" height="1" fill="#000"/>
<rect x="1749" y="54" width="4" height="1" fill="#000"/>
<rect x="1749" y="86" width="4" height="1" fill="#000"/>
<rect x="1749" y="118" width="4" height="1" fill="#000"/>
<rect x="1749" y="150" width="4" height="1" fill="#000"/>
<rect x="1749" y="182" width="4" height="1" fill="#000"/>
<rect x="1749" y="214" width="4" height="1" fill="#000"/>
<rect x="1749" y="246" width="4" height="1" fill="#000"/>
<rect x="1749" y="279" width="4" height="1" fill="#000"/>
<rect x="1749" y="311" width="4" height="1" fill="#000"/>
<rect x="1749" y="343" width="4" height="1" fill="#000"/>
<rect x="1749" y="375" width="4" height="1" fill="#000"/>
<rect x="1749" y="407" width="4" height="1" fill="#000"/>
<rect x="1749" y="439" width="4" height="1" fill="#000"/>
<rect x="1749" y="471" width="4" height="1" fill="#000"/>
<rect x="1749" y="503" width="4" height="1" fill="#000"/>
<rect x="1749" y="535" width="4" height="1" fill="#000"/>
<rect x="1749" y="567" width="4" height="1" fill="#000"/>
<rect x="1749" y="599" width="4" height="1" fill="#000"/>
<rect x="1749" y="631" width="4" height="1" fill="#000"/>
<rect x="1749" y="663" width="4" height="1" fill="#000"/>
<rect x="1749" y="695" width="4" height="1" fill="#000"/>
<rect x="1749" y="728" width="4" height="1" fill="#000"/>
<rect x="1749" y="760" width="4" height="1" fill="#000"/>
<rect x="1749" y="792" width="4" height="1" fill="#000"/>
<rect x="1749" y="824" width="4" height="1" fill="#000"/>
<rect x="1749" y="856" width="4" height="1" fill="#000"/>
<rect x="1749" y="888" width="4" height="1" fill="#000"/>
<rect x="1749" y="920" width="4" height="1" fill="#000"/>
<rect x="1749" y="952" width="4" height="1" fill="#000"/>
<rect x="62" y="985" width="1" height="4" fill="#000"/>
<rect x="126" y="985" width="1" height="4" fill="#000"/>
<rect x="190" y="985" width="1" height="4" fill="#000"/>
<rect x="254" y="985" width="1" height="4" fill="#000"/>
<rect x="318" y="985" width="1" height="4" fill="#000"/>
<rect x="382" y="985" width="1" height="4" fill="#000"/>
<rect x="446" y="985" width="1" height="4" fill="#000"/>
<rect x="510" y="985" width="1" height="4" fill="#000"/>
<rect x="574" y="985" width="1" height="4" fill="#000"/>
<rect x="638" y="985" width="1" height="4" fill="#000"/>
<rect x="702" y="985" width="1" height="4" fill="#000"/>
<rect x="766" y="985" width="1" height="4" fill="#000"/>
<rect x="830" y="985" width="1" height="4" fill="#000"/>
<rect x="894" y="985" width="1" height="4" fill="#000"/>
<rect x="958" y="985" width="1" height="4" fill="#000"/>
<rect x="1022" y="985" width="1" height="4" fill="#000"/>
<rect x="1086" y="985" width="1" height="4" fill="#000"/>
<rect x="1150" y="985" width="1" height="4" fill="#000"/>
<rect x="1214" y="985" width="1" height="4" fill="#000"/>
<rect x="1278" y="985" width="1" height="4" fill="#000"/>
<rect x="1342" y="985" width="1" height="4" fill="#000"/>
<rect x="1406" y="985" width="1" height="4" fill="#000"/>
</g>
<g font-size="9.8px" fill="#000" stroke="#000" stroke-width="0.1" transform="scale(0.918,1)">
<text x="1910.46" y="25.6">4376.80</text>
<text x="1910.46" y="57.6">4363.15</text>
<text x="1910.46" y="89.6">4349.50</text>
<text x="1910.46" y="121.6">4335.85</text>
<text x="1910.46" y="153.6">4322.20</text>
<text x="1910.46" y="185.6">4308.55</text>
<text x="1910.46" y="217.6">4294.90</text>
<text x="1910.46" y="249.6">4281.25</text>
<text x="1910.46" y="282.6">4267.60</text>
<text x="1910.46" y="314.6">4253.95</text>
<text x="1910.46" y="346.6">4240.30</text>
<text x="1910.46" y="378.6">4226.65</text>
<text x="1910.46" y="410.6">4213.00</text>
<text x="1910.46" y="442.6">4199.35</text>
<text x="1910.46" y="474.6">4185.70</text>
<text x="1910.46" y="506.6">4172.05</text>
<text x="1910.46" y="538.6">4158.40</text>
<text x="1910.46" y="570.6">4144.75</text>
<text x="1910.46" y="602.6">4131.10</text>
<text x="1910.46" y="634.6">4117.45</text>
<text x="1910.46" y="666.6">4103.80</text>
<text x="1910.46" y="698.6">4090.15</text>
<text x="1910.46" y="731.6">4076.50</text>
<text x="1910.46" y="763.6">4062.85</text>
<text x="1910.46" y="795.6">4049.20</text>
<text x="1910.46" y="827.6">4035.55</text>
<text x="1910.46" y="859.6">4021.90</text>
<text x="1910.46" y="891.6">4008.25</text>
<text x="1910.46" y="923.6">3994.60</text>
<text x="1910.46" y="955.6">3980.95</text>
</g>
<g shape-rendering="crispEdges"><rect x="1751" y="465" width="39.6" height="11" fill="#E60000"/><rect x="1751" y="595" width="39.6" height="11" fill="#E60000"/><rect x="1751" y="724" width="39.6" height="11" fill="#000"/></g>
<g font-size="9.8px" fill="#fff" transform="scale(0.918,1)"><text x="1910.46" y="474">4185.84</text><text x="1910.46" y="604">4130.69</text><text x="1910.46" y="733">4075.73</text></g>
<g font-size="9.8px" fill="#000" stroke="#000" stroke-width="0.1" transform="scale(0.955,1)">
<text x="-2.41" y="997">10 Oct 2025</text>
<text x="64.61" y="997">10 Oct 19:00</text>
<text x="131.62" y="997">13 Oct 04:00</text>
<text x="198.64" y="997">13 Oct 12:00</text>
<text x="265.65" y="997">13 Oct 20:00</text>
<text x="332.67" y="997">14 Oct 05:00</text>
<text x="399.69" y="997">14 Oct 13:00</text>
<text x="466.70" y="997">14 Oct 21:00</text>
<text x="533.72" y="997">15 Oct 06:00</text>
<text x="600.73" y="997">15 Oct 14:00</text>
<text x="667.75" y="997">15 Oct 22:00</text>
<text x="734.76" y="997">16 Oct 07:00</text>
<text x="801.78" y="997">16 Oct 15:00</text>
<text x="868.80" y="997">16 Oct 23:00</text>
<text x="935.81" y="997">17 Oct 08:00</text>
<text x="1002.83" y="997">17 Oct 16:00</text>
<text x="1069.84" y="997">20 Oct 01:00</text>
<text x="1136.86" y="997">20 Oct 09:00</text>
<text x="1203.87" y="997">20 Oct 17:00</text>
<text x="1270.89" y="997">21 Oct 02:00</text>
<text x="1337.91" y="997">21 Oct 10:00</text>
<text x="1404.92" y="997">21 Oct 18:00</text>
<text x="1471.94" y="997">22 Oct 03:00</text>
</g>
<text x="2" y="9.2" font-size="9.65px" stroke="#000" stroke-width="0.2" fill="#000" style="white-space:pre">XAUUSD_, H1:  Gold vs US Dollar</text>
<text x="129.9" y="83" font-size="32px" font-weight="bold" letter-spacing="0.8" class="ttl" fill="#0707BE" stroke="#0707BE" stroke-width="0.8" stroke-linejoin="round">黄金1小时图</text>
<polygon points="1401.5,0 1411.5,0 1406.5,5.5" fill="#6F7F90"/>
<path d="M588.2,490.0 L878.5,16.7 M859.2,31.0 L878.5,16.7 L874.5,40.4" fill="none" stroke="#0606F0" stroke-width="7.0" stroke-linecap="round" stroke-linejoin="round"/>
<path d="M878.5,16.7 L985.9,461.0 M989.4,437.3 L985.9,461.0 L971.9,441.5" fill="none" stroke="#0606F0" stroke-width="7.25" stroke-linecap="round" stroke-linejoin="round"/>
<path d="M991.4,459.4 L1189.8,12.3 M1172.6,29.0 L1189.8,12.3 L1189.0,36.3" fill="none" stroke="#0606F0" stroke-width="7.4" stroke-linecap="round" stroke-linejoin="round"/>
<path d="M1197.0,10.8 L1396.2,883.5 M1400.0,859.8 L1396.2,883.5 L1382.5,863.8" fill="none" stroke="#0606F0" stroke-width="7.6" stroke-linecap="round" stroke-linejoin="round"/>
<path d="M1400.8,891.0 L1555.2,607.7 M1536.7,622.9 L1555.2,607.7 L1552.4,631.5" fill="none" stroke="#0606F0" stroke-width="7.3" stroke-linecap="round" stroke-linejoin="round"/>
<path d="M1558.8,607.7 L1695.2,853.5 M1692.3,829.7 L1695.2,853.5 L1676.5,838.4" fill="none" stroke="#0606F0" stroke-width="7.3" stroke-linecap="round" stroke-linejoin="round"/>
</svg></body></html>
